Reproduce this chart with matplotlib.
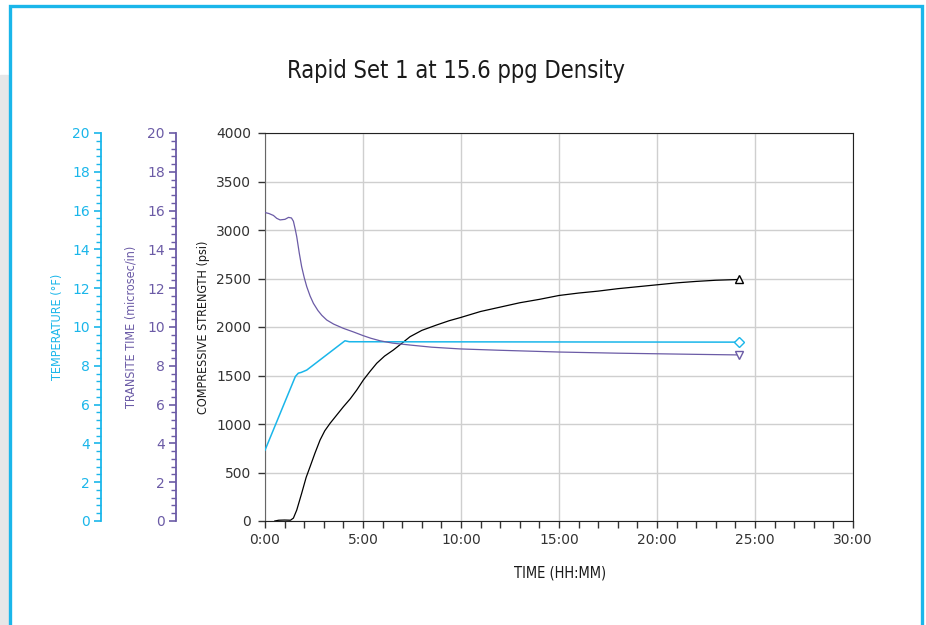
import numpy as np
import matplotlib
matplotlib.use('Agg')
from matplotlib import pyplot as plt
from matplotlib.patches import Rectangle
from matplotlib.ticker import MultipleLocator, FuncFormatter

# readings (time in hours)
strength_time = [0.5, 0.7, 1.0, 1.3, 1.45, 1.62, 1.87, 2.1, 2.3, 2.55, 2.81, 3.05, 3.32, 3.65,
                 4.0, 4.35, 4.68, 5.02, 5.35, 5.7, 6.1, 6.55, 7.0, 7.4, 8.0, 8.76, 9.4, 9.95,
                 11.0, 12.0, 13.0, 14.0, 15.0, 16.0, 17.0, 18.0, 19.0, 20.0, 21.0, 22.0, 23.0, 24.2]
strength_psi = [0, 8, 10, 8, 30, 113, 285, 450, 560, 700, 835, 930, 1007, 1090,
                1178, 1260, 1350, 1454, 1540, 1626, 1700, 1763, 1835, 1900, 1965, 2021, 2065, 2096,
                2160, 2205, 2250, 2285, 2325, 2350, 2370, 2395, 2415, 2435, 2455, 2470, 2482, 2490]

transit_time = [0, 0.2, 0.43, 0.6, 0.77, 1.02, 1.2, 1.35, 1.45, 1.55, 1.62, 1.75, 1.87, 2.0,
                2.13, 2.3, 2.47, 2.7, 2.9, 3.15, 3.5, 4.0, 4.5, 5.02, 5.4, 5.87, 6.5, 7.4,
                8.5, 9.95, 12.0, 15.0, 18.0, 20.0, 22.0, 24.2]
transit_us = [15.9, 15.85, 15.75, 15.6, 15.52, 15.55, 15.65, 15.62, 15.45, 15.0, 14.65, 13.8, 13.11, 12.55,
              12.08, 11.6, 11.22, 10.85, 10.6, 10.36, 10.15, 9.93, 9.75, 9.55, 9.42, 9.29, 9.17, 9.07,
              8.96, 8.87, 8.80, 8.71, 8.65, 8.62, 8.59, 8.56]

temp_time = [0, 1.55, 1.7, 1.85, 2.13, 4.08, 4.3, 24.2]
temp_f = [3.65, 7.45, 7.62, 7.66, 7.78, 9.29, 9.24, 9.22]

CYAN = '#1ab6ea'
PURPLE = '#6b5ba6'
NARROW = dict(family='DejaVu Sans', stretch='condensed')

W, H = 926, 625
fig = plt.figure(figsize=(W / 100, H / 100), dpi=100)

# page decoration: grey strip and cyan frame
fig.add_artist(Rectangle((0, 0), 8 / W, 1 - 75 / H, transform=fig.transFigure,
                         color='#e6e7e8', zorder=0))
fig.add_artist(Rectangle((10 / W, -0.05), (922 - 10) / W, 1.05 - 6 / H, transform=fig.transFigure,
                         fill=False, ec=CYAN, lw=2.4, zorder=0))

left, right, bottom, top = 265, 853, 521, 133
ax = fig.add_axes([left / W, 1 - bottom / H, (right - left) / W, (bottom - top) / H])

ax.set_xlim(0, 30)
ax.set_ylim(0, 4000)
ax.xaxis.set_major_locator(MultipleLocator(5))
ax.xaxis.set_minor_locator(MultipleLocator(1))
ax.yaxis.set_major_locator(MultipleLocator(500))
ax.xaxis.set_major_formatter(FuncFormatter(lambda v, p: '%d:00' % int(v)))
ax.grid(True, which='major', color='#cfcfcf', lw=1.0)
ax.set_axisbelow(True)
ax.tick_params(axis='both', which='major', direction='out', length=5, width=1, colors='#333333',
               labelsize=10, pad=4)
ax.tick_params(axis='x', which='minor', direction='out', length=5, width=1, colors='#333333')
ax.tick_params(axis='y', pad=5)
for s in ['top', 'right', 'bottom']:
    ax.spines[s].set_color('#222222')
ax.spines['left'].set_color('#666666')

# temperature and transit time on their own left-hand scales
ax_temp = ax.twinx()
ax_tt = ax.twinx()
for a, col, off in [(ax_temp, CYAN, left - 101), (ax_tt, PURPLE, left - 176)]:
    a.set_ylim(0, 20)
    a.patch.set_visible(False)
    for s in ['top', 'right', 'bottom']:
        a.spines[s].set_visible(False)
    a.spines['left'].set_visible(True)
    a.spines['left'].set_position(('outward', off * 0.72))
    a.spines['left'].set_color(col)
    a.spines['left'].set_linewidth(1.3)
    a.yaxis.set_ticks_position('left')
    a.yaxis.set_major_locator(MultipleLocator(2))
    a.yaxis.set_minor_locator(MultipleLocator(0.4))
    a.tick_params(axis='y', which='major', length=5, width=1.2, colors=col, labelsize=10, pad=3)
    a.tick_params(axis='y', which='minor', length=3.5, width=1.0, colors=col)

ax.plot(strength_time, strength_psi, color='black', lw=0.9, zorder=3)
ax.plot(strength_time[-1], strength_psi[-1], marker='^', ms=6, mfc='white', mec='black', mew=1, zorder=4)
ax_tt.plot(transit_time, transit_us, color=PURPLE, lw=0.9)
ax_tt.plot(transit_time[-1], transit_us[-1], marker='v', ms=6, mfc='white', mec=PURPLE, mew=1)
ax_temp.plot(temp_time, temp_f, color=CYAN, lw=1.1)
ax_temp.plot(temp_time[-1], temp_f[-1], marker='D', ms=5, mfc='white', mec=CYAN, mew=1)

fig.text(456 / W, 1 - 71 / H, 'Rapid Set 1 at 15.6 ppg Density', **NARROW,
         fontsize=17, ha='center', va='center', color='#1a1a1a')
fig.text(57 / W, 1 - 327 / H, 'TEMPERATURE (°F)', **NARROW, fontsize=9,
         rotation=90, ha='center', va='center', color=CYAN)
fig.text(131 / W, 1 - 327 / H, 'TRANSITE TIME (microsec/in)', **NARROW, fontsize=9,
         rotation=90, ha='center', va='center', color=PURPLE)
fig.text(204 / W, 1 - 327 / H, 'COMPRESSIVE STRENGTH (psi)', **NARROW, fontsize=9,
         rotation=90, ha='center', va='center', color='#1a1a1a')
fig.text(560 / W, 1 - 573 / H, 'TIME (HH:MM)', **NARROW, fontsize=10.5,
         ha='center', va='center', color='#1a1a1a')

plt.savefig('out.png', dpi=100)
